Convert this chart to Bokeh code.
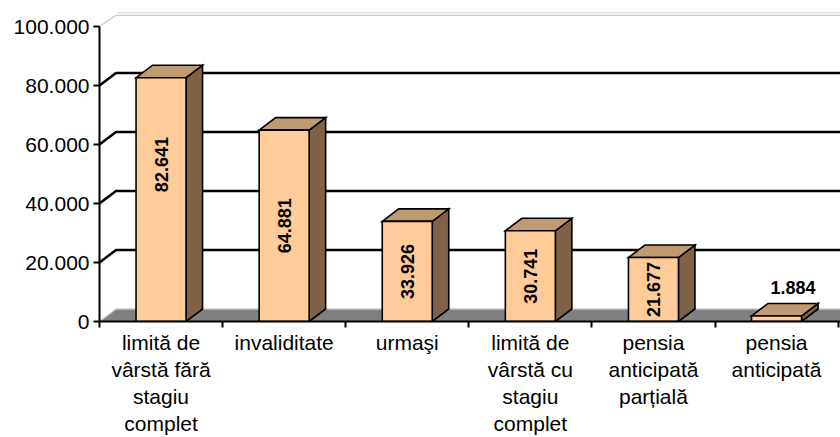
import math
from bokeh.plotting import figure
from bokeh.models import FixedTicker, Range1d
from bokeh.core.properties import value
from bokeh.embed import file_html
from bokeh.resources import INLINE

# ---- data ----
categories = ["limită de\nvârstă fără\nstagiu\ncomplet", "invaliditate", "urmaşi",
              "limită de\nvârstă cu\nstagiu\ncomplet", "pensia\nanticipată\nparțială",
              "pensia\nanticipată"]
values = [82641, 64881, 33926, 30741, 21677, 1884]
value_labels = ["82.641", "64.881", "33.926", "30.741", "21.677", "1.884"]
y_ticks = [0, 20000, 40000, 60000, 80000, 100000]
y_tick_labels = ["0", "20.000", "40.000", "60.000", "80.000", "100.000"]

# ---- layout / style ----
FONT = "Liberation Sans"
W, H = 840, 437
LEFT, BOTTOM = 99, 116
frame_w = W - LEFT
frame_h = H - BOTTOM
CAT_PX = 123.1
UNIT_PX = 2.95 / 1000.0
X0 = -0.5
X1 = X0 + frame_w / CAT_PX
Y1 = frame_h / UNIT_PX
DX = 16.5 / CAT_PX
DY = 12.5 / UNIT_PX
BW = 50.0 / CAT_PX
LABEL_NUDGE_PX = [35, 0, 0, 0, 0, 0]   # manual label nudges (screen px, upward)

FRONT = "#FFCC99"
TOP = "#C09A70"
SIDE = "#7F6148"
FLOOR = "#808080"
WALL_EDGE = "#C8C8C8"

p = figure(width=W, height=H, x_range=Range1d(X0, X1), y_range=Range1d(0, Y1),
           output_backend="svg", toolbar_location=None,
           min_border_left=LEFT, min_border_right=0, min_border_top=0,
           min_border_bottom=BOTTOM)
p.outline_line_color = None
p.xgrid.visible = False
p.ygrid.visible = False
p.background_fill_color = "white"
p.border_fill_color = "white"

# ---- floor ----
p.patch([X0, X1, X1, X0 + DX], [0, 0, DY, DY], fill_color=FLOOR, line_color=None)
p.line([X0, X0 + DX, X1], [0, DY, DY], line_color=WALL_EDGE, line_width=1.5)

# ---- back wall gridlines + left wall diagonals ----
for t in y_ticks[1:-1]:
    p.line([X0, X0 + DX, X1], [t, t + DY, t + DY], line_color="black", line_width=2.5)
top = y_ticks[-1]
off = 1.35 / UNIT_PX
p.line([X0, X0 + DX, X1], [top, top + DY - off, top + DY - off], line_color=WALL_EDGE, line_width=1.2)
p.line([X0 + DX, X1], [top + DY + off, top + DY + off], line_color="#DDDDDD", line_width=1.2)

# ---- bars ----
side_xs, side_ys, top_xs, top_ys, front_xs, front_ys = [], [], [], [], [], []
for i, v in enumerate(values):
    xl, xr = i - BW / 2, i + BW / 2
    front_xs.append([xl, xr, xr, xl]); front_ys.append([0, 0, v, v])
    top_xs.append([xl, xr, xr + DX, xl + DX]); top_ys.append([v, v, v + DY, v + DY])
    side_xs.append([xr, xr + DX, xr + DX, xr]); side_ys.append([0, DY, v + DY, v])
for xs, ys, col in [(side_xs, side_ys, SIDE), (top_xs, top_ys, TOP), (front_xs, front_ys, FRONT)]:
    p.patches(xs, ys, fill_color=col, line_color="black", line_width=1.6, line_join="miter")

# ---- value labels ----
in_x, in_y, in_t, out_x, out_y, out_t = [], [], [], [], [], []
for i, (v, lab) in enumerate(zip(values, value_labels)):
    if v * UNIT_PX > 40:
        in_x.append(i); in_y.append(v / 2 + LABEL_NUDGE_PX[i] / UNIT_PX); in_t.append(lab)
    else:
        out_x.append(i + DX); out_y.append(v + DY + 16 / UNIT_PX); out_t.append(lab)
p.text(x=in_x, y=in_y, text=in_t, angle=math.pi / 2, text_align="center",
       text_baseline="middle", text_font=value(FONT), text_font_style="bold",
       text_font_size="18px", text_color="black")
p.text(x=out_x, y=out_y, text=out_t, text_align="center",
       text_baseline="middle", text_font=value(FONT), text_font_style="bold",
       text_font_size="18px", text_color="black")

# ---- axes ----
ya = p.yaxis[0]
ya.ticker = FixedTicker(ticks=y_ticks)
ya.major_label_overrides = {t: l for t, l in zip(y_ticks, y_tick_labels)}
ya.bounds = (y_ticks[0], y_ticks[-1])
ya.axis_line_width = 2
ya.axis_line_color = "black"
ya.major_tick_line_width = 2
ya.major_tick_out = 6
ya.major_tick_in = 0
ya.minor_tick_out = 0
ya.minor_tick_in = 0
ya.major_label_standoff = 4
ya.major_label_text_font = FONT
ya.major_label_text_font_size = "21px"
ya.major_label_text_color = "black"

xa = p.xaxis[0]
centers = list(range(len(categories)))
xa.ticker = FixedTicker(ticks=centers,
                        minor_ticks=[i - 0.5 for i in range(len(categories) + 1)])
xa.major_label_overrides = {c: lab for c, lab in zip(centers, categories)}
xa.major_label_text_font = FONT
xa.major_label_text_font_size = "21px"
xa.major_label_text_color = "black"
xa.major_label_text_line_height = 1.18
xa.major_label_standoff = 3
xa.axis_line_width = 2
xa.axis_line_color = "black"
xa.major_tick_out = 0
xa.major_tick_in = 0
xa.minor_tick_line_width = 2
xa.minor_tick_line_color = "black"
xa.minor_tick_out = 6
xa.minor_tick_in = 0

open("out.html", "w").write(file_html(p, INLINE))
